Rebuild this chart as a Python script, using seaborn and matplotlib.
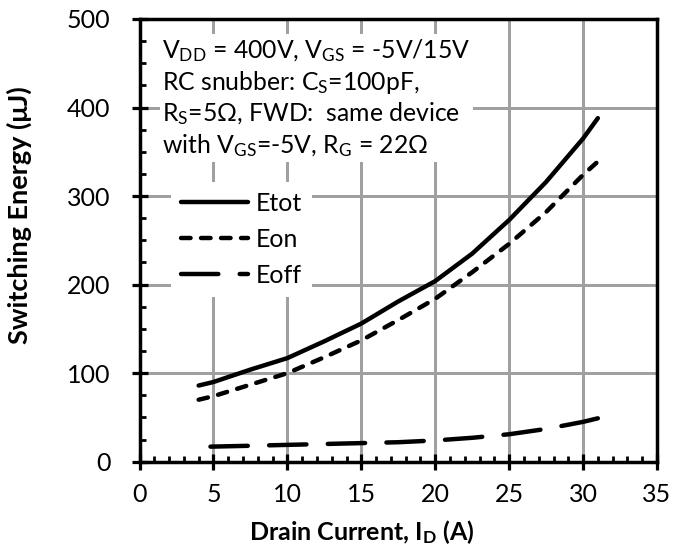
import numpy as np
import pandas as pd
import matplotlib
matplotlib.use("Agg")
import matplotlib.pyplot as plt
import seaborn as sns
from matplotlib.lines import Line2D
from matplotlib.ticker import MultipleLocator

# ---- data ----
x_main = [4, 5, 7.5, 10, 12.5, 15, 17.5, 20, 22.5, 25, 27.5, 30, 31]
etot = [86, 90, 104, 117, 136, 156, 181, 204, 235, 273, 316, 365, 388]
eon = [70, 74, 87, 100, 118, 137, 160, 184, 214, 246, 282, 324, 339]
x_off = [4.8, 7.5, 10, 12.5, 15, 17.5, 20, 22.5, 25, 27.5, 30, 31]
eoff = [17, 18, 19, 20, 21, 22, 24, 27, 31, 37, 45, 49]

series_names = ["Etot", "Eon", "Eoff"]
x_ticks = [0, 5, 10, 15, 20, 25, 30, 35]
y_ticks = [0, 100, 200, 300, 400, 500]

df = pd.concat([
    pd.DataFrame({"I": x_main, "E": etot, "s": "Etot"}),
    pd.DataFrame({"I": x_main, "E": eon, "s": "Eon"}),
    pd.DataFrame({"I": x_off, "E": eoff, "s": "Eoff"}),
], ignore_index=True)

sns.set_theme(style="ticks")
plt.rcParams["font.family"] = ["Lato", "DejaVu Sans"]
plt.rcParams["mathtext.fontset"] = "custom"
plt.rcParams["mathtext.rm"] = "Lato"
plt.rcParams["mathtext.it"] = "Lato:italic"
plt.rcParams["mathtext.bf"] = "Lato:bold"
plt.rcParams["text.color"] = "black"
plt.rcParams["axes.labelcolor"] = "black"
plt.rcParams["xtick.color"] = "black"
plt.rcParams["ytick.color"] = "black"

fig = plt.figure(figsize=(6.73, 5.48), dpi=100)
ax = fig.add_axes([139.5 / 673, 1 - 461.7 / 548, (657 - 139.5) / 673, (461.7 - 19) / 548])
ax.set_facecolor("white")

lw = 3.2
styles = {"Etot": "-", "Eon": (0, (2.15, 2.35)), "Eoff": (0, (8.4, 4.8))}
for name in series_names:
    sub = df[df["s"] == name]
    sns.lineplot(data=sub, x="I", y="E", ax=ax, color="black", lw=lw,
                 linestyle=styles[name], solid_capstyle="round",
                 dash_capstyle="round", legend=False, zorder=3)

ax.set_xlim(0, 35)
ax.set_ylim(0, 500)
ax.set_xticks(x_ticks)
ax.set_yticks(y_ticks)
ax.xaxis.set_minor_locator(MultipleLocator(1))
ax.yaxis.set_minor_locator(MultipleLocator(25))

for sp in ax.spines.values():
    sp.set_visible(True)
    sp.set_linewidth(2.5)
    sp.set_color("black")
    sp.set_zorder(4)

ax.tick_params(axis="both", which="major", direction="inout", length=12, width=2.3,
               labelsize=18, colors="black", left=True, bottom=True,
               top=False, right=False)
ax.tick_params(axis="x", which="major", pad=9.3)
ax.tick_params(axis="y", which="major", pad=15)
ax.tick_params(axis="both", which="minor", direction="in", length=4.2, width=2.0,
               left=True, bottom=True, top=False, right=False, colors="black")

# major grid (crisp 1 px grey lines)
ax.set_axisbelow(True)
ax.grid(True, which="major", color="#a0a0a0", linewidth=0.75, linestyle="-",
        antialiased=False)

ax.set_xlabel(r"Drain Current, I$_{\mathbf{D}}$ (A)", fontsize=18, fontweight="bold")
ax.set_ylabel("Switching Energy (μJ)", fontsize=19.5, fontweight="bold")
ax.xaxis.set_label_coords(0.43, -0.128)
ax.yaxis.set_label_coords(-0.207, 0.556)

txt = ("V$_{\\mathrm{DD}}$ = 400V, V$_{\\mathrm{GS}}$ = -5V/15V\n"
       "RC snubber: C$_{\\mathrm{S}}$=100pF,\n"
       "R$_{\\mathrm{S}}$=5Ω, FWD:  same device\n"
       "with V$_{\\mathrm{GS}}$=-5V, R$_{\\mathrm{G}}$ = 22Ω")
ax.text(0.044, 0.96, txt, transform=ax.transAxes, fontsize=17.8, va="top", ha="left",
        linespacing=1.24, zorder=5, color="black",
        bbox=dict(boxstyle="square,pad=0.1", facecolor="white", edgecolor="none"))

handles = [Line2D([], [], color="black", lw=lw, linestyle=styles[n],
                  dash_capstyle="round", solid_capstyle="round") for n in series_names]
leg = ax.legend(handles, series_names, loc="upper left", bbox_to_anchor=(0.060, 0.632),
                borderaxespad=0.0, fontsize=18, frameon=True, facecolor="white",
                edgecolor="none", framealpha=1.0, handlelength=2.7, handletextpad=0.32,
                labelspacing=0.52, borderpad=0.4, fancybox=False)
leg.set_zorder(6)
for t in leg.get_texts():
    t.set_color("black")

fig.savefig("out.png", dpi=100, facecolor="white")
